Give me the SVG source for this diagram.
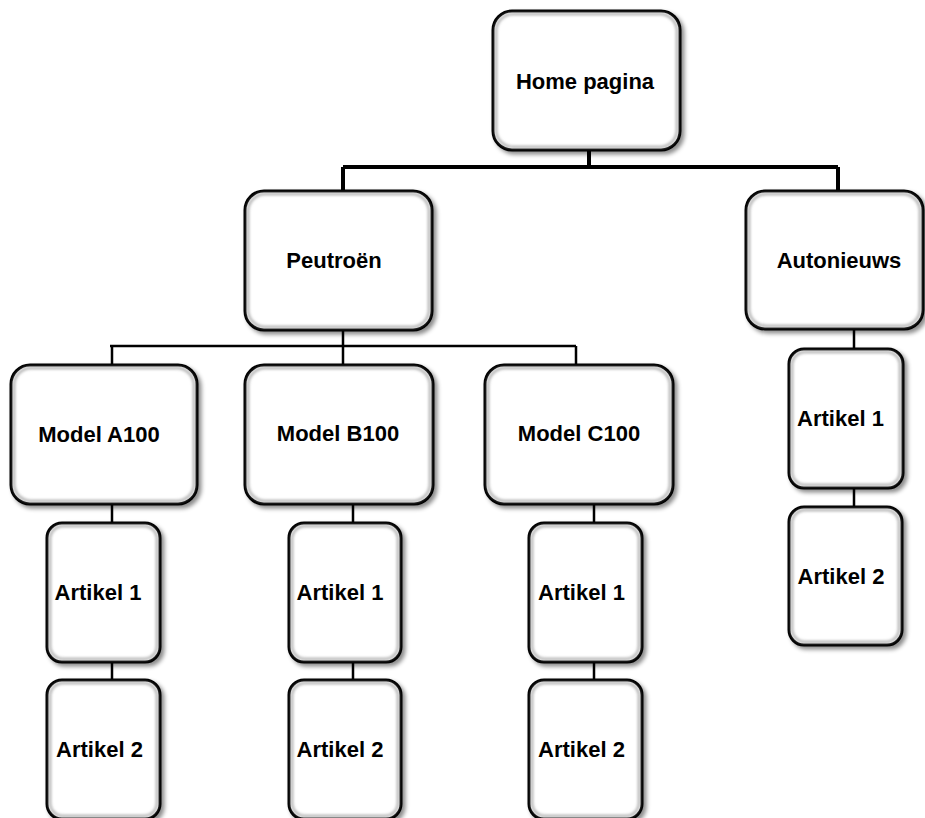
<svg xmlns="http://www.w3.org/2000/svg" width="925" height="818" viewBox="0 0 925 818">
<defs>
<filter id="sh" x="-10%" y="-10%" width="125%" height="125%">
<feDropShadow dx="3" dy="3" stdDeviation="2" flood-color="#000" flood-opacity="0.45"/>
</filter>
<filter id="blur" x="-5%" y="-5%" width="110%" height="110%">
<feGaussianBlur stdDeviation="1.5"/>
</filter>
</defs>
<style>
.box{fill:#fff;stroke:#000;stroke-width:3;filter:url(#sh)}
.inner{fill:none;stroke:#9a9a9a;stroke-width:2;filter:url(#blur)}
.lbl{font-family:"Liberation Sans",Arial,sans-serif;font-weight:bold;font-size:22px;fill:#000;text-anchor:middle}
.c1{fill:none;stroke:#000;stroke-width:4}
.c2{fill:none;stroke:#000;stroke-width:2.5}
</style>
<rect width="925" height="818" fill="#fff"/>
<g id="connectors">
<path class="c1" d="M589 150V167M343 167H838M343 167V191M838 167V191"/>
<path class="c2" d="M343 330V346M110 346H576M112 346V365M343 346V365M576 346V365"/>
<path class="c2" d="M112 504V523M112 662V680M353 504V523M353 662V680M594 504V523M594 662V680M854 329V349M854 488V507"/>
</g>
<g id="home"><rect class="box" x="493" y="11" width="187" height="139" rx="19"/><rect class="inner" x="496" y="14" width="181" height="133" rx="17"/><text class="lbl" x="585" y="88.5">Home pagina</text></g>
<g id="peutroen"><rect class="box" x="245" y="191" width="187" height="139" rx="19"/><rect class="inner" x="248" y="194" width="181" height="133" rx="17"/><text class="lbl" x="334" y="267.5">Peutroën</text></g>
<g id="autonieuws"><rect class="box" x="746" y="191" width="177" height="138" rx="19"/><rect class="inner" x="749" y="194" width="171" height="132" rx="17"/><text class="lbl" x="839" y="268">Autonieuws</text></g>
<g id="modelA"><rect class="box" x="11" y="365" width="186" height="139" rx="19"/><rect class="inner" x="14" y="368" width="180" height="133" rx="17"/><text class="lbl" x="99" y="441.5">Model A100</text></g>
<g id="modelB"><rect class="box" x="245" y="365" width="188" height="139" rx="19"/><rect class="inner" x="248" y="368" width="182" height="133" rx="17"/><text class="lbl" x="338" y="441">Model B100</text></g>
<g id="modelC"><rect class="box" x="485" y="365" width="188" height="139" rx="19"/><rect class="inner" x="488" y="368" width="182" height="133" rx="17"/><text class="lbl" x="579" y="441">Model C100</text></g>
<g id="a-art1"><rect class="box" x="47" y="523" width="113" height="139" rx="15"/><rect class="inner" x="50" y="526" width="107" height="133" rx="13"/><text class="lbl" x="98" y="599.5">Artikel 1</text></g>
<g id="a-art2"><rect class="box" x="47" y="680" width="113" height="139" rx="15"/><rect class="inner" x="50" y="683" width="107" height="133" rx="13"/><text class="lbl" x="99.5" y="756.5">Artikel 2</text></g>
<g id="b-art1"><rect class="box" x="289" y="523" width="112" height="139" rx="15"/><rect class="inner" x="292" y="526" width="106" height="133" rx="13"/><text class="lbl" x="340" y="599.5">Artikel 1</text></g>
<g id="b-art2"><rect class="box" x="289" y="680" width="112" height="139" rx="15"/><rect class="inner" x="292" y="683" width="106" height="133" rx="13"/><text class="lbl" x="340" y="756.5">Artikel 2</text></g>
<g id="c-art1"><rect class="box" x="529" y="523" width="113" height="139" rx="15"/><rect class="inner" x="532" y="526" width="107" height="133" rx="13"/><text class="lbl" x="581.5" y="599.5">Artikel 1</text></g>
<g id="c-art2"><rect class="box" x="529" y="680" width="113" height="139" rx="15"/><rect class="inner" x="532" y="683" width="107" height="133" rx="13"/><text class="lbl" x="581.5" y="756.5">Artikel 2</text></g>
<g id="auto-art1"><rect class="box" x="789" y="349" width="114" height="139" rx="15"/><rect class="inner" x="792" y="352" width="108" height="133" rx="13"/><text class="lbl" x="840.5" y="425.5">Artikel 1</text></g>
<g id="auto-art2"><rect class="box" x="789" y="507" width="113" height="138" rx="15"/><rect class="inner" x="792" y="510" width="107" height="132" rx="13"/><text class="lbl" x="841" y="583.5">Artikel 2</text></g>
</svg>
